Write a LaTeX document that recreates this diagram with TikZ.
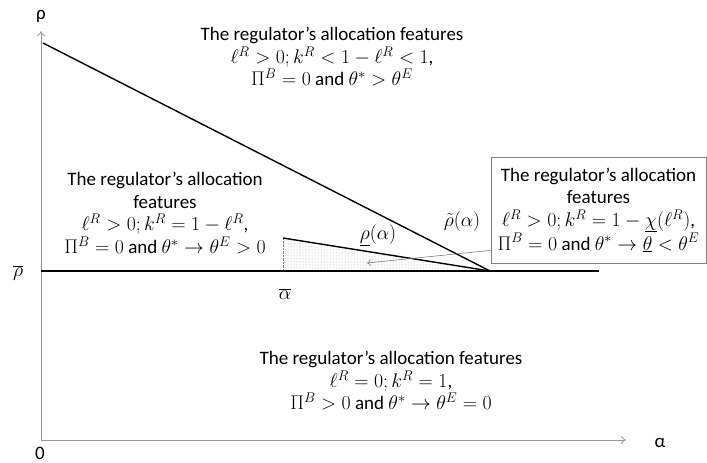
\RequirePackage{fix-cm}
\documentclass[tikz,border=0pt]{standalone}
\usepackage{fontspec}
\setmainfont{Carlito}
\DeclareMathSizes{19}{19.8}{14}{10.5}
\usetikzlibrary{patterns,arrows.meta,calc}

\begin{document}
\begin{tikzpicture}[x=1pt,y=-1pt,
    feat/.style={align=center,inner sep=0pt,font=\fontsize{19}{22.5}\selectfont},
    lbl/.style={inner sep=1pt,font=\fontsize{19}{22}\selectfont},
    ax/.style={gray!80,line width=0.8pt},
    bound/.style={line width=1.4pt}]
\useasboundingbox (0,0) rectangle (707,463);
% axes
\coordinate (o) at (41,440);
\draw[ax,-{To[length=5pt,width=8pt]}] (o)--(41,31) coordinate (ytip);
\draw[ax,-{To[length=5pt,width=8pt]}] (o)--(626,440) coordinate (xtip);
\node[lbl] (rholab) at (41,16) {ρ};
\node[lbl] (alphalab) at (660,443) {α};
\node[lbl] (zero) at (40,453) {0};
% regions
\coordinate (kink) at (490,271);
\coordinate (abar) at (283,271);
\coordinate (lowtop) at (283,238);
\fill[pattern=dots,pattern color=gray!70] (lowtop)--(kink)--(abar)--cycle;
\draw[densely dotted,gray] (lowtop)--(abar);
\draw[bound] (41,271)--(599,271);
\draw[bound] (43,43)--(kink);
\draw[bound] (lowtop)--(kink);
\node[lbl] (rhobar) at (18,273) {$\overline{\rho}$};
\node[lbl] (alphabar) at (285,294) {$\overline{\alpha}$};
\node[lbl] (rholow) at (378,235) {$\underline{\rho}(\alpha)$};
\node[lbl] (rhotil) at (462,222) {$\tilde{\rho}(\alpha)$};
% texts
\node[feat] (top) at (332,57) {The regulator’s allocation features\\
  $\ell^R>0; k^R<1-\ell^R<1$,\\
  $\Pi^B=0$ and $\theta^*>\theta^E$};
\node[feat] (left) at (165,213) {The regulator’s allocation\\
  features\\
  $\ell^R>0; k^R=1-\ell^R$,\\
  $\Pi^B=0$ and $\theta^*\to\theta^E>0$};
\node[feat,draw=gray,line width=0.8pt,minimum width=215pt,minimum height=106pt] (boxR) at (598.5,210) {The regulator’s allocation\\
  features\\
  $\ell^R>0; k^R=1-\underline{\chi}(\ell^R)$,\\
  $\Pi^B=0$ and $\theta^*\to\underline{\theta}<\theta^E$};
\node[feat] (bottom) at (391,381) {The regulator’s allocation features\\
  $\ell^R=0; k^R=1$,\\
  $\Pi^B>0$ and $\theta^*\to\theta^E=0$};
\coordinate (shade) at (367,263);
\draw[gray,line width=0.6pt,-{To[length=4pt,width=7pt]}] ($(boxR.south west)+(0,-13)$)--(shade);
\end{tikzpicture}
\end{document}
